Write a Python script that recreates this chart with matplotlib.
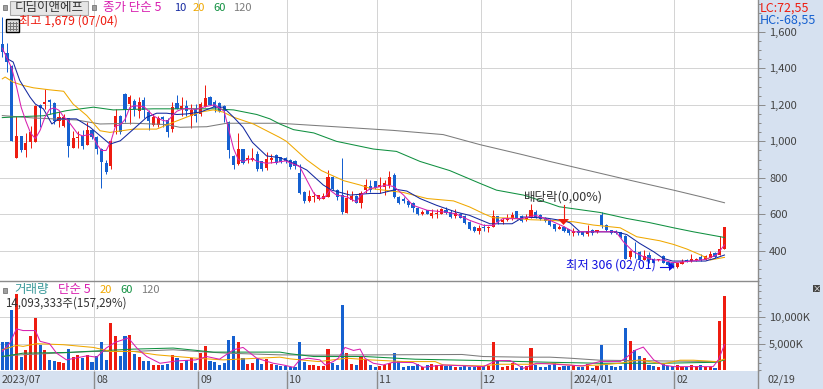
import matplotlib
matplotlib.use("agg")
import matplotlib.pyplot as plt
from matplotlib.patches import Rectangle, Polygon
from matplotlib.ticker import FuncFormatter, MultipleLocator

plt.rcParams["font.family"] = ["Noto Sans CJK KR", "DejaVu Sans"]

W, H = 823, 389

# daily candles
opens = [1532, 1486, 1410, 907, 1027, 950, 994, 998, 1198, 1205,
         1228, 1212, 1113, 1086, 1128, 961, 1018, 1030, 981, 1062,
         1025, 960, 880, 865, 1080, 1141, 1260, 1204, 1223, 1164,
         1226, 1163, 1091, 1091, 1135, 1117, 1067, 1210, 1178, 1196,
         1141, 1178, 1150, 1186, 1245, 1217, 1210, 1196, 1104, 920,
         874, 957, 896, 900, 930, 893, 856, 896, 925, 913,
         908, 899, 895, 825, 724, 672, 693, 683, 685, 696,
         807, 733, 706, 608, 678, 700, 663, 733, 757, 783,
         748, 748, 761, 816, 696, 682, 674, 663, 637, 602,
         622, 590, 604, 604, 626, 615, 590, 600, 590, 558,
         534, 507, 530, 526, 534, 590, 558, 571, 582, 617,
         590, 577, 582, 613, 595, 582, 571, 547, 520, 533,
         518, 496, 511, 502, 491, 514, 502, 596, 542, 514,
         511, 502, 482, 365, 402, 396, 351, 378, 358, 351,
         372, 342, 336, 311, 329, 349, 345, 349, 365, 351,
         363, 387, 378, 411]
closes = [1490, 1434, 1000, 1030, 950, 990, 1050, 1195, 1180, 1218,
          1214, 1110, 1132, 1132, 972, 1018, 1025, 975, 1062, 1025,
          957, 885, 834, 1000, 1141, 1050, 1173, 1241, 1177, 1217,
          1171, 1114, 1132, 1126, 1122, 1053, 1190, 1178, 1195, 1168,
          1169, 1141, 1204, 1238, 1199, 1190, 1168, 1165, 953, 870,
          957, 880, 910, 911, 850, 850, 902, 911, 880, 886,
          890, 858, 866, 715, 672, 700, 702, 704, 700, 807,
          737, 696, 613, 691, 702, 663, 720, 761, 733, 746,
          761, 770, 807, 698, 660, 673, 652, 638, 600, 613,
          604, 608, 609, 632, 608, 586, 608, 582, 553, 522,
          507, 527, 526, 530, 590, 558, 571, 582, 595, 577,
          562, 586, 622, 586, 577, 564, 540, 518, 533, 511,
          496, 511, 496, 487, 509, 496, 514, 542, 514, 496,
          496, 474, 356, 402, 394, 351, 374, 351, 336, 356,
          336, 323, 311, 332, 342, 342, 356, 356, 351, 372,
          383, 365, 409, 529]
highs = [1679, 1536, 1418, 1140, 1030, 1045, 1085, 1200, 1205, 1288,
         1232, 1215, 1168, 1150, 1130, 1058, 1058, 1062, 1104, 1068,
         1030, 965, 900, 1005, 1175, 1145, 1265, 1254, 1232, 1241,
         1241, 1170, 1150, 1140, 1140, 1130, 1215, 1255, 1241, 1225,
         1205, 1205, 1215, 1306, 1248, 1227, 1215, 1200, 1110, 925,
         1045, 960, 925, 966, 945, 895, 940, 930, 930, 917,
         913, 905, 897, 875, 728, 733, 724, 706, 720, 845,
         810, 740, 908, 733, 730, 705, 728, 795, 790, 785,
         805, 790, 838, 826, 700, 696, 680, 670, 640, 626,
         624, 630, 632, 634, 640, 625, 628, 608, 595, 562,
         537, 540, 549, 535, 622, 593, 580, 600, 613, 620,
         595, 600, 655, 625, 600, 585, 575, 550, 540, 537,
         522, 524, 515, 505, 542, 518, 516, 611, 545, 516,
         513, 505, 485, 408, 447, 398, 405, 396, 360, 358,
         376, 345, 338, 335, 356, 356, 383, 360, 383, 376,
         400, 394, 482, 529]
lows = [1460, 1380, 1000, 907, 940, 917, 966, 998, 1077, 1175,
        1150, 1095, 1080, 1080, 915, 961, 966, 957, 981, 1012,
        930, 745, 820, 847, 1040, 1040, 1105, 1094, 1140, 1130,
        1130, 1062, 1086, 1080, 1080, 1025, 1050, 1175, 1140, 1140,
        1073, 1104, 1140, 1186, 1197, 1158, 1160, 1104, 907, 847,
        870, 875, 880, 893, 840, 840, 845, 882, 875, 880,
        880, 848, 850, 712, 660, 668, 669, 681, 685, 696,
        733, 680, 604, 608, 676, 660, 637, 720, 725, 740,
        720, 705, 745, 690, 655, 663, 640, 612, 598, 595,
        602, 578, 582, 600, 600, 580, 578, 578, 550, 516,
        502, 494, 512, 505, 530, 550, 550, 565, 570, 575,
        558, 565, 578, 580, 572, 560, 535, 510, 518, 505,
        490, 482, 488, 483, 482, 490, 500, 524, 510, 492,
        492, 470, 354, 358, 360, 349, 351, 332, 334, 347,
        334, 320, 306, 306, 327, 338, 342, 345, 347, 349,
        360, 360, 378, 411]
volumes = [5250, 5250, 11400, 14420, 2560, 3850, 6540, 9800, 4800, 3850,
           1920, 1730, 1470, 1280, 4040, 2440, 2760, 2370, 2880, 1600,
           2690, 5380, 1920, 8850, 6540, 2690, 6540, 6730, 3080, 2440,
           1730, 1730, 960, 960, 960, 1150, 2880, 2370, 1410, 1920,
           2310, 1410, 3200, 4620, 1730, 1600, 1030, 1410, 5770, 6540,
           5380, 2370, 1150, 1280, 2120, 1150, 2050, 1150, 960, 770,
           770, 640, 640, 5380, 1600, 960, 960, 770, 830, 4040,
           1410, 960, 12300, 3270, 1150, 960, 2560, 1920, 960, 580,
           770, 900, 1280, 3270, 1730, 580, 770, 770, 1090, 640,
           960, 1090, 900, 900, 830, 830, 640, 640, 700, 640,
           640, 770, 770, 770, 5380, 1730, 510, 770, 1280, 450,
           770, 770, 4230, 960, 580, 640, 960, 1280, 580, 830,
           830, 960, 640, 640, 1150, 380, 770, 4800, 960, 770,
           580, 830, 8010, 5570, 3720, 2690, 2310, 960, 770, 580,
           1090, 830, 700, 960, 640, 640, 960, 700, 960, 640,
           640, 450, 9230, 14093]

# price moving averages: candle position, price
ma5_x = [0, 2, 3, 4, 5, 6, 7, 8, 9, 10, 11, 12, 13, 14, 15, 16, 17, 18, 19, 20, 21, 22, 23, 24, 25, 26, 27, 28, 30, 31,
         32, 33, 34, 35, 36, 37, 38, 39, 41, 43, 45, 47, 48, 49, 50, 51, 52, 53, 54, 56, 58, 60, 63, 64.5, 66, 67.3,
         68.4, 69.4, 70.8, 73, 75, 76, 78, 80, 81.4, 83, 85, 87, 90, 93.4, 96, 99, 102, 104, 106, 110, 113, 116, 119,
         121, 124.5, 130, 131.6, 133.7, 135.8, 138, 140, 142, 145, 149, 151.3, 153]
ma5 = [1510, 1400, 1300, 1186, 1110, 1045, 1015, 1060, 1130, 1175, 1183, 1170, 1135, 1110, 1075, 1040, 1030, 1035,
       1040, 985, 950, 950, 1000, 1085, 1090, 1120, 1185, 1195, 1190, 1165, 1140, 1125, 1115, 1110, 1140, 1165, 1175,
       1180, 1175, 1190, 1200, 1165, 1060, 960, 900, 890, 900, 905, 890, 880, 885, 893, 862, 788, 715, 687, 696, 733,
       706, 696, 669, 706, 742, 752, 761, 752, 706, 650, 623, 614, 604, 568, 540, 540, 577, 577, 595, 568, 533, 505,
       505, 505, 450, 396, 369, 351, 351, 336, 342, 354, 378, 433]
ma10_x = [1, 2.3, 3.7, 5.9, 7, 8.7, 10.5, 11.9, 15.7, 18.6, 20.7, 22.8, 25, 27.8, 30.6, 32.7, 34.8, 37, 39, 41.9, 44.7,
          46.8, 49, 51, 53, 56, 58.8, 61.7, 64.5, 68, 69.8, 73.7, 78, 80, 83.5, 85.7, 88.5, 92, 96, 99, 103.3, 108,
          110.4, 115.3, 119, 120.3, 122.4, 130, 132.3, 135, 138, 140, 142, 149, 151, 153]
ma10 = [1453, 1434, 1333, 1241, 1204, 1178, 1095, 1123, 1123, 1077, 1031, 985, 1003, 1067, 1132, 1154, 1154, 1147, 1150,
        1160, 1187, 1187, 1132, 1077, 994, 920, 911, 880, 843, 761, 733, 706, 715, 715, 737, 728, 687, 650, 614, 595,
        549, 549, 586, 580, 565, 554, 505, 505, 490, 442, 396, 360, 345, 345, 360, 378]
ma20_x = [0, 0.6, 2.3, 4.4, 6.6, 10, 13, 15, 17.9, 20.7, 22.8, 27.8, 32.7, 36.2, 39, 41.9, 44.7, 46.8, 49, 53.2, 58.8,
          60.2, 64.5, 67.6, 72.3, 75.8, 78, 85, 90, 95.6, 99, 102, 104, 108, 112, 116, 121, 125.2, 130.9, 134.4, 139.3,
          142.2, 145, 148, 150, 153]
ma20 = [1342, 1352, 1324, 1306, 1293, 1282, 1274, 1204, 1141, 1058, 1049, 1067, 1067, 1104, 1132, 1160, 1172, 1160,
        1132, 1095, 1021, 1000, 899, 840, 785, 761, 742, 720, 687, 674, 641, 604, 582, 580, 571, 568, 560, 542, 527,
        478, 456, 436, 411, 378, 351, 365]
ma60_x = [0, 3.7, 8.7, 13.6, 19.3, 23.5, 32, 40.5, 44.7, 49, 53.9, 56.7, 58.8, 61.7, 66, 70.8, 78.6, 83.5, 88.5, 94.8,
          101.2, 104.7, 110.4, 116, 118, 126.6, 132.3, 137, 142.2, 146.4, 151.3, 153]
ma60 = [1130, 1135, 1140, 1168, 1187, 1172, 1178, 1178, 1178, 1172, 1147, 1123, 1095, 1064, 1046, 1000, 958, 945, 890,
        840, 770, 733, 706, 660, 642, 611, 578, 556, 527, 505, 482, 474]
ma120_x = [0, 6.6, 15.7, 20.7, 27.8, 34.8, 37.6, 43.3, 47.5, 58.8, 82.8, 93.4, 101.2, 110.4, 116, 133, 142.2, 148, 153]
ma120 = [1141, 1128, 1117, 1095, 1099, 1092, 1077, 1080, 1099, 1099, 1060, 1037, 982, 926, 890, 787, 733, 697, 664]

# volume moving averages
vma5_x = [0, 1.6, 3, 4.4, 7, 8, 10, 11.5, 13.6, 17.9, 20, 22, 23.9, 26.7, 28.5, 30.6, 33.4, 37, 41, 43.3, 46, 49, 51,
          53.9, 57.4, 59.5, 61.7, 63, 64.8, 67.3, 68.4, 70.1, 71.2, 72.6, 74.4, 75.8, 76.8, 78.6, 80.7, 82.8, 87, 89.2,
          93.4, 101.9, 104.7, 107.6, 110.4, 113.2, 116, 123, 126.6, 130.9, 132.3, 134, 135.8, 138, 140, 142.2, 150.6,
          151.7, 153]
vma5 = [3530, 5130, 7820, 7500, 7500, 5450, 5000, 3200, 1920, 2690, 2440, 4170, 5260, 6090, 4170, 2560, 1280, 1730,
        1920, 2560, 2050, 3850, 4290, 2240, 1280, 960, 510, 1920, 2240, 1920, 960, 1600, 2240, 4290, 3720, 3970, 2240,
        1280, 960, 1470, 1410, 510, 960, 640, 1790, 1790, 320, 1280, 1150, 770, 1600, 1600, 2440, 3720, 4360, 1920,
        960, 640, 640, 1920, 4810]
vma20_x = [0, 3, 4.4, 7.3, 12.9, 19.3, 23, 27.8, 32.7, 41.2, 46.8, 58.8, 61, 67, 73, 78, 85, 91.7, 93.4, 101.9, 105,
           112, 116, 122.4, 126.6, 130.9, 135, 140, 143.6, 146.4, 151.3, 153]
vma20 = [3850, 4680, 4490, 5000, 4810, 4290, 3530, 3530, 2880, 2240, 1920, 2440, 2115, 1600, 2240, 1920, 1600, 1600,
         960, 770, 1090, 1090, 1280, 770, 960, 1280, 1920, 1150, 1860, 1860, 1600, 2050]
vma60_x = [0, 4.4, 13.6, 20.7, 27.8, 36.2, 41.2, 44.7, 58.8, 61, 66, 76.8, 87.5, 101.9, 116, 126.6, 140, 151.3, 153]
vma60 = [2560, 3200, 3330, 3650, 3970, 4170, 3720, 3400, 3400, 3080, 2560, 2560, 2050, 1790, 1470, 1280, 1280, 1470, 1920]
vma120_x = [0, 3.7, 19.3, 27.8, 36.2, 41.2, 47.5, 58.8, 66, 97.4, 101.9, 110.4, 116, 120.3, 126.6, 151.3, 153]
vma120 = [2560, 2880, 3530, 3530, 3850, 3530, 3200, 2880, 2820, 2950, 2560, 2440, 2440, 2240, 1860, 1600, 1920]

month_pos = [19.49, 41.52, 60.38, 79.44, 101.5, 120.55, 142.4]
month_labels = ["08", "09", "10", "11", "12", "2024/01", "02"]
price_ticks = [400, 600, 800, 1000, 1200, 1400, 1600]
volume_ticks = [5000, 10000]

RED = "#ee1c10"
BLUE = "#1560d0"
GRID = "#d4d4d4"
PANEL = "#d6e1f0"
EDGE = "#8c8c8c"
TEXT = "#444444"
C5, C10, C20, C60, C120 = "#d820b0", "#1428a0", "#f0a800", "#109040", "#7c7c7c"


def fx(x):
    return x / W


def fy(y):
    return 1 - y / H


def label(x, y, s, color=TEXT, size=8.0):
    fig.text(fx(x), fy(y), s, color=color, fontsize=size, va="center", ha="left")


fig = plt.figure(figsize=(W / 100, H / 100), dpi=100, facecolor=PANEL)
ax = fig.add_axes([0, fy(281), fx(758), 281 / H], facecolor="white")
vax = fig.add_axes([0, fy(371), fx(758), 90 / H], facecolor="white")
bax = fig.add_axes([0, 0, fx(758), 18 / H], facecolor=PANEL)

xlim = (-0.49, 160.1)
xs = list(range(len(opens)))
colors = [RED if c >= o else BLUE for o, c in zip(opens, closes)]

for a in (ax, vax):
    a.set_xlim(*xlim)
    a.set_xticks(month_pos)
    a.tick_params(axis="x", length=0, labelbottom=False)
    a.grid(True, color=GRID, linewidth=0.72)
    a.set_axisbelow(True)
    a.yaxis.tick_right()
    a.tick_params(axis="y", which="major", length=5, width=0.72, color=EDGE, pad=3, labelsize=8.0, labelcolor=TEXT)
    a.tick_params(axis="y", which="minor", length=2.5, width=0.72, color=EDGE)
    for side in ("left", "top", "bottom"):
        a.spines[side].set_visible(False)
    a.spines["right"].set_color(EDGE)
    a.spines["right"].set_linewidth(1.0)

# price panel
ax.set_ylim(235.8, 1773.5)
ax.set_yticks(price_ticks)
ax.yaxis.set_minor_locator(MultipleLocator(50))
ax.yaxis.set_major_formatter(FuncFormatter(lambda v, p: f"{v:,.0f}"))
ax.vlines(xs, lows, highs, colors=colors, linewidth=0.72)
ax.bar(xs, [abs(c - o) for o, c in zip(opens, closes)], bottom=[min(o, c) for o, c in zip(opens, closes)],
       width=0.66, color=colors, linewidth=0)
for mx, my, col in ((ma120_x, ma120, C120), (ma60_x, ma60, C60), (ma20_x, ma20, C20), (ma10_x, ma10, C10), (ma5_x, ma5, C5)):
    ax.plot(mx, my, color=col, linewidth=0.75)

# volume panel
vax.set_ylim(-192, 16923)
vax.set_yticks(volume_ticks)
vax.yaxis.set_minor_locator(MultipleLocator(1250))
vax.yaxis.set_major_formatter(FuncFormatter(lambda v, p: f"{v:,.0f}K"))
vax.bar(xs, volumes, width=0.66, color=colors, linewidth=0)
for mx, my, col in ((vma120_x, vma120, C120), (vma60_x, vma60, C60), (vma20_x, vma20, C20), (vma5_x, vma5, C5)):
    vax.plot(mx, my, color=col, linewidth=0.75)
vax.spines["top"].set_visible(True)
vax.spines["top"].set_color(EDGE)
vax.spines["top"].set_linewidth(1.0)
vax.spines["bottom"].set_visible(True)
vax.spines["bottom"].set_color(EDGE)
vax.spines["bottom"].set_linewidth(0.72)

# date band
bax.set_xlim(*xlim)
bax.set_ylim(0, 1)
bax.set_yticks([])
bax.set_xticks([])
for side in ("left", "top", "bottom"):
    bax.spines[side].set_visible(False)
bax.spines["right"].set_color(EDGE)
bax.spines["right"].set_linewidth(1.0)
bax.vlines(month_pos, 0, 1, colors=EDGE, linewidth=1.0)
label(2, 380, "2023/07", TEXT, 7.7)
for pos, name in zip(month_pos, month_labels):
    label(pos * 4.72 + 2.32 + 2, 380, name, TEXT, 7.7)
label(767, 380, "02/19", TEXT, 7.7)

# header controls and legends
fig.add_artist(Rectangle((fx(10), fy(15)), 78 / W, 14 / H, transform=fig.transFigure, facecolor="#e6e6e6", edgecolor="#a8a8a8", linewidth=0.8))
for sx, sy in ((3, 5), (92, 5), (3, 288)):
    fig.add_artist(Rectangle((fx(sx), fy(sy + 5)), 4 / W, 5 / H, transform=fig.transFigure, facecolor="#a0a0a0", edgecolor="#777777", linewidth=0.6))
label(15, 8, "디딤이앤에프", "#333333", 9)
label(103, 8, "종가 단순 5", C5, 9)
label(174, 8, "10", C10)
label(193, 8, "20", C20)
label(213, 8, "60", C60)
label(233, 8, "120", C120)
label(19, 21, "최고 1,679 (07/04)", RED, 8.8)

# small table icon under the stock name
fig.add_artist(Rectangle((fx(6), fy(32)), 13 / W, 13 / H, transform=fig.transFigure, facecolor="#dddddd", edgecolor="black", linewidth=1))
for gx in (10, 13, 16):
    fig.add_artist(plt.Line2D([fx(gx), fx(gx)], [fy(22), fy(30)], color="#777777", linewidth=0.7))
for gy in (23, 26, 29):
    fig.add_artist(plt.Line2D([fx(8), fx(17)], [fy(gy), fy(gy)], color="#777777", linewidth=0.7))

label(14, 290, "거래량", "#3a9a9a", 9)
label(58, 290, "단순 5", C5, 9)
label(100, 290, "20", C20)
label(120, 290, "60", C60)
label(141, 290, "120", C120)
label(5, 303, "14,093,333주(157,29%)", "#333333", 8.3)

label(760, 8, "LC:72,55", RED, 9)
label(760, 20, "HC:-68,55", BLUE, 9)

# annotations on the price panel
label(524, 197, "배당락(0,00%)", "#333333", 9)
fig.add_artist(plt.Line2D([fx(563.5), fx(563.5)], [fy(205), fy(219)], color=RED, linewidth=0.8))
fig.add_artist(Polygon([(fx(558), fy(219)), (fx(569), fy(219)), (fx(563.5), fy(225))], transform=fig.transFigure, facecolor=RED, edgecolor="none"))
label(566, 265, "최저 306 (02/01)", "#1010e0", 8.9)
fig.add_artist(plt.Line2D([fx(660), fx(669)], [fy(266.5), fy(266.5)], color="#1010e0", linewidth=0.8))
fig.add_artist(Polygon([(fx(669), fy(262)), (fx(669), fy(271)), (fx(674.5), fy(266.5))], transform=fig.transFigure, facecolor="#1010e0", edgecolor="none"))

# close box on the volume panel
fig.add_artist(Rectangle((fx(813), fy(292)), 7 / W, 7 / H, transform=fig.transFigure, facecolor="#444444", edgecolor="none"))
fig.text(fx(816.5), fy(288.5), "×", color="white", fontsize=6, ha="center", va="center")

fig.savefig("out.png", dpi=100, facecolor=PANEL)
plt.close(fig)
